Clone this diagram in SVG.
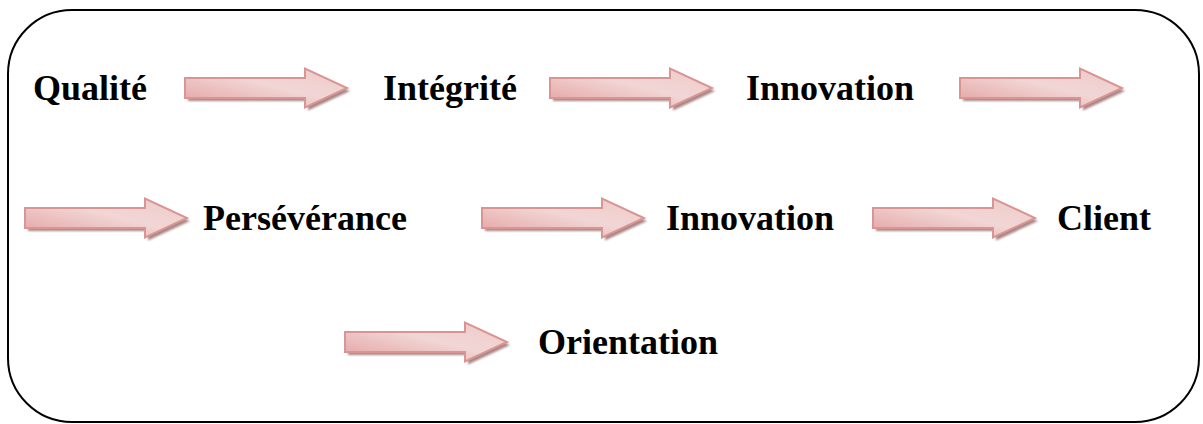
<svg xmlns="http://www.w3.org/2000/svg" width="1203" height="424" viewBox="0 0 1203 424">
  <defs>
    <linearGradient id="arrowFill" x1="0" y1="1" x2="1" y2="0">
      <stop offset="0" stop-color="#e3a09f"/>
      <stop offset="0.55" stop-color="#f1d6d5"/>
      <stop offset="1" stop-color="#eecac9"/>
    </linearGradient>
    <filter id="soft" x="-10%" y="-30%" width="120%" height="160%">
      <feGaussianBlur stdDeviation="1"/>
    </filter>
    <!-- block arrow: body 120x20, head 42 long, 39 tall; origin at left-middle -->
    <path id="arrowShape" d="M0,-10 H120 V-19.5 L162,0 L120,19.5 V10 H0 Z"/>
    <g id="blockArrow">
      <use href="#arrowShape" transform="translate(3,3)" fill="#a88585" filter="url(#soft)"/>
      <use href="#arrowShape" fill="url(#arrowFill)" stroke="#d99594" stroke-width="2" stroke-linejoin="miter"/>
    </g>
  </defs>
  <style>
    .label { font-family: "Liberation Serif", "Times New Roman", serif; font-weight: bold; font-size: 36px; fill: #000; }
    .frame { fill: #fff; stroke: #000; stroke-width: 2; }
  </style>

  <rect width="1203" height="424" fill="#fff"/>
  <rect class="frame" x="8" y="10" width="1191" height="412" rx="64" ry="64"/>

  <g id="connectors">
    <use href="#blockArrow" x="185" y="88"/>
    <use href="#blockArrow" x="550" y="88"/>
    <use href="#blockArrow" x="960" y="88"/>
    <use href="#blockArrow" x="25" y="218"/>
    <use href="#blockArrow" x="482" y="218"/>
    <use href="#blockArrow" x="873" y="218"/>
    <use href="#blockArrow" x="345" y="342"/>
  </g>

  <g id="node-qualite"><text class="label" x="33" y="100">Qualité</text></g>
  <g id="node-integrite"><text class="label" x="383" y="100">Intégrité</text></g>
  <g id="node-innovation-1"><text class="label" x="746" y="100">Innovation</text></g>
  <g id="node-perseverance"><text class="label" x="203" y="230">Persévérance</text></g>
  <g id="node-innovation-2"><text class="label" x="666" y="230">Innovation</text></g>
  <g id="node-client"><text class="label" x="1057" y="230">Client</text></g>
  <g id="node-orientation"><text class="label" x="538" y="354">Orientation</text></g>
</svg>
